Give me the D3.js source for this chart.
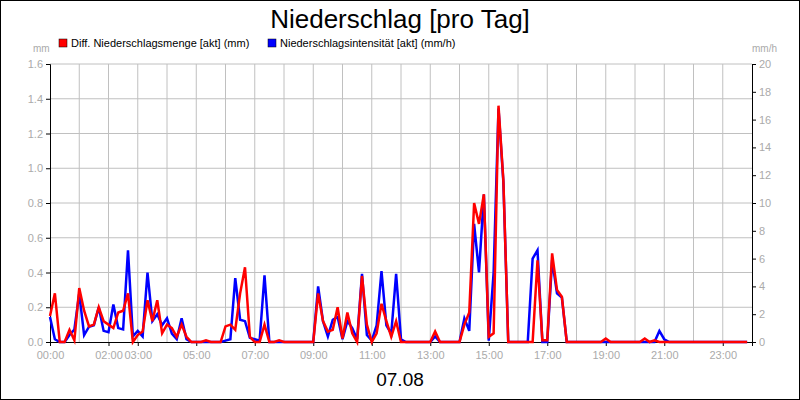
<!DOCTYPE html>
<html>
<head>
<meta charset="UTF-8">
<script src="https://d3js.org/d3.v7.min.js"></script>
<style>
  body { margin: 0; background: #fff; }
  svg { font-family: "Liberation Sans", Arial, sans-serif; }
</style>
</head>
<body>
<svg width="800" height="400"></svg>
<script>
// values every 10 minutes, one row per hour
const menge = [
  .15,.28,0,0,.07,.01,  .31,.18,.09,.10,.20,.12,  .10,.08,.17,.18,.28,0,
  .04,.06,.24,.12,.24,.05,  .10,.08,.03,.10,.03,0,  0,0,.01,0,0,0,
  .09,.10,.07,.28,.43,.03,  0,0,.10,0,0,.01,  0,0,0,0,0,0,
  0,.28,.12,.06,.07,.20,  .02,.17,.05,0,.38,.10,  0,.05,.22,.12,.03,.12,
  0,0,0,0,0,0,  0,.06,0,0,0,0,  0,.10,.17,.80,.68,.85,
  .03,.05,1.36,.93,0,0,  0,0,0,0,.47,.01,  .01,.51,.30,.26,0,0,
  0,0,0,0,0,0,  .02,0,0,0,0,0,  0,0,.02,0,.01,0,
  0,0,0,0,0,0,  0,0,0,0,0,0,  0,0,0,0,0,0
];
const intens = [
  1.8,.2,0,0,.5,.9,  3.5,.5,1.1,1.2,2.5,.8,  .7,2.7,1.0,.9,6.6,.4,
  .8,.4,5.0,1.5,2.0,1.2,  1.7,.6,.2,1.7,.2,0,  0,0,0,0,0,0,
  .1,.2,4.6,1.6,1.5,.3,  .2,.1,4.8,0,0,0,  0,0,0,0,0,0,
  0,4.0,1.5,.4,1.6,1.8,  .2,1.5,1.0,.2,4.9,.5,  .1,1.2,5.1,1.2,.6,4.9,
  .2,0,0,0,0,0,  0,.4,0,0,0,0,  0,1.7,.8,8.5,5.0,10.6,
  .1,5.0,16.8,11.5,0,0,  0,0,0,6.0,6.6,0,  0,5.9,3.5,3.2,0,0,
  0,0,0,0,0,0,  0,0,0,0,0,0,  0,0,0,0,0,.8,
  .2,0,0,0,0,0,  0,0,0,0,0,0,  0,0,0,0,0,0
];
const tickHours = [0, 2, 3, 5, 7, 9, 11, 13, 15, 17, 19, 21, 23];
const leftTicks = d3.range(0, 1.61, 0.2);
const rightTicks = d3.range(0, 21, 2);

const svg = d3.select("svg");
const m = { left: 50, right: 752, top: 64, bottom: 342 };

svg.append("rect").attr("x", 0.5).attr("y", 0.5).attr("width", 799).attr("height", 399)
  .attr("fill", "#fff").attr("stroke", "#000");

const x = d3.scaleLinear().domain([0, 24]).range([m.left, m.right]);
const yL = d3.scaleLinear().domain([0, 1.6]).range([m.bottom, m.top]);
const yR = d3.scaleLinear().domain([0, 20]).range([m.bottom, m.top]);

// grid
svg.append("g").selectAll("line").data(d3.range(1, 24)).join("line")
  .attr("x1", d => x(d)).attr("x2", d => x(d)).attr("y1", m.top).attr("y2", m.bottom)
  .attr("stroke", "#c0c0c0");
svg.append("g").selectAll("line").data(leftTicks.slice(1)).join("line")
  .attr("x1", m.left).attr("x2", m.right).attr("y1", d => yL(d)).attr("y2", d => yL(d))
  .attr("stroke", "#c0c0c0");

// axes
const gl = svg.append("g").attr("transform", `translate(${m.left},0)`)
  .call(d3.axisLeft(yL).tickValues(leftTicks).tickFormat(d3.format(".1f")).tickSize(4));
const gr = svg.append("g").attr("transform", `translate(${m.right},0)`)
  .call(d3.axisRight(yR).tickValues(rightTicks).tickSize(4));
const gb = svg.append("g").attr("transform", `translate(0,${m.bottom})`)
  .call(d3.axisBottom(x).tickValues(tickHours).tickSize(4)
    .tickFormat(d => String(d).padStart(2, "0") + ":00"));
[gl, gr, gb].forEach(g => {
  g.select(".domain").attr("stroke", "#000");
  g.selectAll(".tick line").attr("stroke", "#000");
  g.selectAll(".tick text").attr("fill", "#aaa").attr("font-size", 11)
    .attr("font-family", "Liberation Sans, Arial, sans-serif");
});
gb.selectAll(".tick text").attr("dy", "0.9em");

const t = (d, i) => i / 6;
const line = (scale) => d3.line().x((d, i) => x(t(d, i))).y(d => scale(d));

svg.append("path").datum(intens).attr("d", line(yR))
  .attr("fill", "none").attr("stroke", "#0000ff").attr("stroke-width", 2.5);
svg.append("path").datum(menge).attr("d", line(yL))
  .attr("fill", "none").attr("stroke", "#ff0000").attr("stroke-width", 2.5);

// texts
svg.append("text").attr("x", 400).attr("y", 28).attr("text-anchor", "middle")
  .attr("font-size", 26).text("Niederschlag [pro Tag]");
svg.append("text").attr("x", 33).attr("y", 52).attr("font-size", 10).attr("fill", "#aaa").text("mm");
svg.append("text").attr("x", 752).attr("y", 52).attr("font-size", 10).attr("fill", "#aaa").text("mm/h");
const legend = [["Diff. Niederschlagsmenge [akt] (mm)", "#ff0000", 59], ["Niederschlagsintensität [akt] (mm/h)", "#0000ff", 268]];
legend.forEach(([label, col, lx]) => {
  svg.append("rect").attr("x", lx).attr("y", 39).attr("width", 8).attr("height", 8)
    .attr("fill", col).attr("stroke", "#000").attr("stroke-width", 0.5);
  svg.append("text").attr("x", lx + 12).attr("y", 47).attr("font-size", 11).text(label);
});
svg.append("text").attr("x", 400).attr("y", 386).attr("text-anchor", "middle")
  .attr("font-size", 19).text("07.08");
</script>
</body>
</html>
